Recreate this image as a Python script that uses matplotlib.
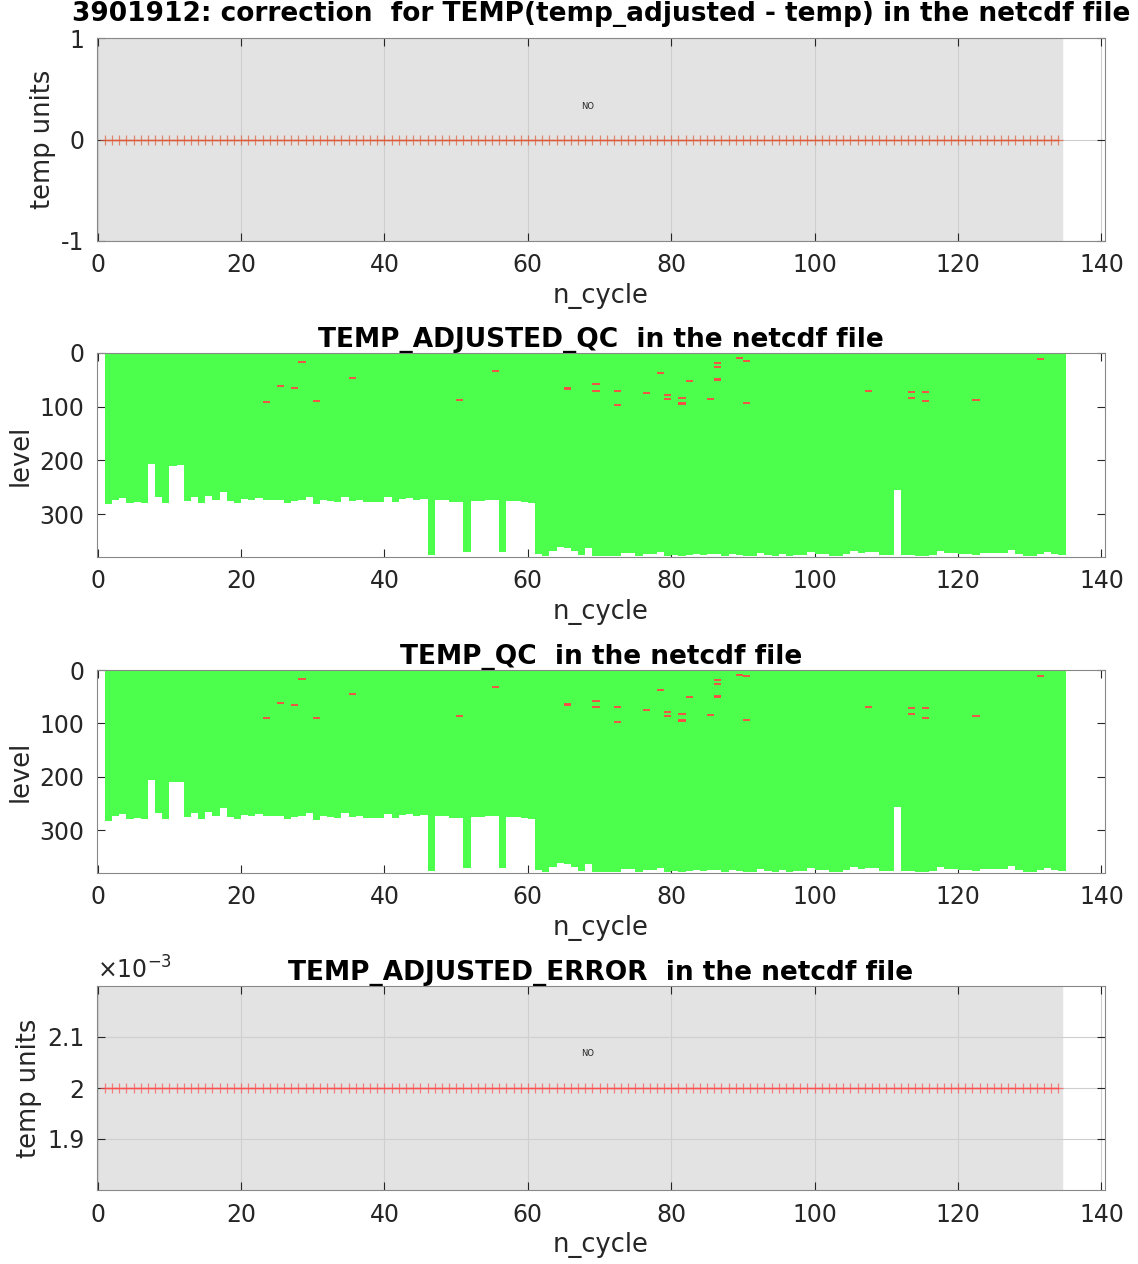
import numpy as np
import matplotlib
matplotlib.use('Agg')
import matplotlib.pyplot as plt

plt.rcParams['axes.unicode_minus'] = False
plt.rcParams['font.family'] = 'DejaVu Sans'

float_id = '3901912'
cycles = np.arange(1, 135)

# number of levels in each profile (cycle 1..134)
n_levels = [282, 274, 270, 279, 277, 279, 206, 268, 279, 210,
            209, 275, 268, 279, 266, 273, 259, 275, 279, 272,
            273, 270, 273, 273, 273, 279, 276, 274, 268, 281,
            273, 276, 277, 268, 276, 273, 277, 277, 277, 269,
            277, 272, 270, 274, 272, 376, 273, 274, 277, 277,
            370, 276, 276, 273, 274, 370, 276, 275, 277, 279,
            374, 378, 368, 362, 364, 368, 376, 363, 378, 378,
            378, 378, 372, 372, 378, 375, 374, 371, 378, 377,
            378, 377, 375, 377, 374, 375, 378, 375, 376, 378,
            378, 373, 376, 378, 375, 378, 377, 377, 371, 374,
            374, 378, 378, 375, 369, 372, 371, 371, 377, 377,
            256, 377, 376, 378, 378, 377, 368, 372, 372, 374,
            374, 377, 373, 372, 372, 373, 367, 375, 378, 378,
            375, 371, 374, 376]

# bad QC flags (cycle, level)
adj_bad_cycle = [23, 25, 27, 28, 30, 35, 50, 55, 65, 65, 69, 69, 72, 72, 76,
                 78, 79, 79, 81, 81, 81, 82, 85, 86, 86, 86, 86, 89, 90, 90,
                 107, 113, 113, 115, 115, 122, 131]
adj_bad_level = [91, 62, 66, 17, 89, 47, 87, 33, 65, 67, 58, 70, 71, 97, 75,
                 38, 79, 86, 84, 93, 95, 52, 86, 19, 27, 49, 51, 9, 14, 93,
                 70, 73, 84, 73, 89, 88, 12]

qc_bad_cycle = [23, 25, 27, 28, 30, 35, 50, 55, 65, 65, 69, 69, 72, 72, 76,
                78, 79, 79, 81, 81, 81, 82, 85, 86, 86, 86, 86, 89, 90, 90,
                107, 113, 113, 115, 115, 122, 131]
qc_bad_level = [90, 61, 65, 16, 89, 45, 86, 32, 63, 65, 58, 70, 70, 97, 74,
                37, 78, 86, 83, 93, 95, 51, 85, 19, 26, 48, 50, 9, 12, 93,
                69, 71, 83, 71, 89, 87, 11]

correction = np.zeros(len(cycles))
adj_error = np.full(len(cycles), 0.002)

green = '#4dff4d'
red = '#ff4545'
gray_bg = '#e3e3e3'
W, H = 1138, 1264

fig = plt.figure(figsize=(W / 100, H / 100), dpi=100)


def ax_at(top, bottom):
    return fig.add_axes([97 / W, 1 - bottom / H, (1105 - 97) / W, (bottom - top) / H])


def style(ax):
    ax.set_xlim(-0.1, 140.5)
    ax.set_xticks(np.arange(0, 141, 20))
    ax.tick_params(direction='in', top=True, right=True, labelsize=17,
                   colors='#262626', length=6, width=0.8, pad=9)
    for s in ax.spines.values():
        s.set_color('#888888')
    ax.set_xlabel('n_cycle', fontsize=18.5, color='#262626', labelpad=4)


def line_panel(ax, y, ylim, yticks, color, title, pad):
    ax.axvspan(-0.1, 134.5, color=gray_bg, zorder=0)
    ax.grid(True, color='#cfcfcf', linewidth=0.8, zorder=1)
    ax.set_axisbelow(True)
    ax.plot(cycles, y, '-', color=color, linewidth=1.0, zorder=3)
    ax.plot(cycles, y, '+', color=color, alpha=0.7, markersize=7, mew=0.9, zorder=3)
    ax.set_ylim(*ylim)
    ax.set_yticks(yticks)
    ax.set_title(title, fontsize=19, fontweight='bold', pad=pad)
    ax.set_ylabel('temp units', fontsize=18.5, color='#262626')
    style(ax)


def qc_panel(ax, bad_c, bad_l, title):
    x = np.append(cycles, cycles[-1] + 1)
    y = np.append(n_levels, n_levels[-1])
    ax.fill_between(x, 0, y, step='post', color=green, linewidth=0, zorder=2)
    bad_c = np.array(bad_c)
    ax.hlines(bad_l, bad_c, bad_c + 1, colors=red, linewidth=1.3, zorder=3)
    ax.set_ylim(380, 0)
    ax.set_yticks([0, 100, 200, 300])
    ax.set_title(title, fontsize=19, fontweight='bold', pad=4)
    ax.set_ylabel('level', fontsize=18.5, color='#262626')
    style(ax)


ax1 = ax_at(38, 241)
line_panel(ax1, correction, (-1, 1), [-1, 0, 1], '#de5a36',
           f'{float_id}: correction  for TEMP(temp_adjusted - temp) in the netcdf file', 12)
ax1.text(68.3, 0.33, 'NO', fontsize=6, ha='center', va='center', color='#262626')

ax2 = ax_at(353, 557)
qc_panel(ax2, adj_bad_cycle, adj_bad_level, 'TEMP_ADJUSTED_QC  in the netcdf file')

ax3 = ax_at(670, 873)
qc_panel(ax3, qc_bad_cycle, qc_bad_level, 'TEMP_QC  in the netcdf file')

ax4 = ax_at(986, 1190)
line_panel(ax4, adj_error, (0.0018, 0.0022), [0.0019, 0.002, 0.0021], '#ff5050',
           'TEMP_ADJUSTED_ERROR  in the netcdf file', 4)
ax4.set_yticklabels(['1.9', '2', '2.1'])
ax4.text(0, 1.01, r'$\times10^{-3}$', transform=ax4.transAxes, fontsize=17,
         color='#262626', va='bottom', ha='left')
ax4.text(68.3, 0.0020667, 'NO', fontsize=6, ha='center', va='center', color='#262626')

fig.savefig('out.png', dpi=100)
